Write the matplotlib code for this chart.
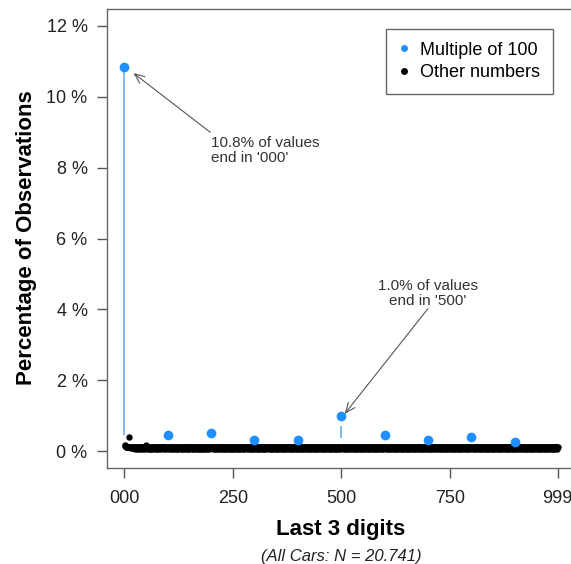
import matplotlib
matplotlib.use('Agg')
import matplotlib.pyplot as plt
from matplotlib.lines import Line2D

plt.rcParams['font.family'] = ['Liberation Sans', 'DejaVu Sans']

# multiples of 100 (percent of observations)
mult_x = [0, 100, 200, 300, 400, 500, 600, 700, 800, 900]
mult_y = [10.85, 0.44, 0.50, 0.32, 0.32, 1.00, 0.44, 0.30, 0.39, 0.25]

# light blue spikes seen under '000' and '500' (x, low, high)
spike_x = [0, 500]
spike_lo = [0.45, 0.38]
spike_hi = [10.70, 0.72]

# other numbers: one line per hundred, endings 01..99,
# each char (base 36) * 0.02 = percent of observations
other_codes = [
    "877665656 k656545465 6546535446 3645364543 5463546345 7865436453 5436453645 4635463546 5364535465 4536443654",
    "463546354 6453645364 5346354645 3645364536 4536453645 3654635463 5463546354 6354635463 4536453645 3654635466",
    "546354635 4635463546 5364536453 6453645364 5364536453 6453546354 6354635463 5463546354 6453645364 5364536453",
    "463546354 6354635463 5463546354 6453645364 5364536453 6453645364 5364536453 6453645364 5364536453 6453645364",
    "364536453 6453645364 5364536453 6453645364 5364536453 6453645364 5364536453 6453645364 5364536453 6453645364",
    "546354635 4635463546 5364536453 6453645364 5364536453 6453645364 5364536453 6453645364 5364536453 6453645364",
    "453645364 5364536453 6453645364 5364536453 6453645364 5364536453 6453645364 5364536453 6453645364 5364536453",
    "546354635 4635463546 5364536453 6453645364 5364536453 6453645364 5364536453 6453645364 5364536453 6453645364",
    "453645364 5364536453 6453645364 5364536453 6453645364 5364536453 6453645364 5364536453 6453645364 5364536453",
    "546354635 4635463546 5364536453 6453645364 5364536453 6453645364 5364536453 6453645364 5364536453 6453645366",
]

other_x = []
other_y = []
for h, line in enumerate(other_codes):
    codes = line.replace(' ', '')
    for k, c in enumerate(codes):
        other_x.append(h * 100 + k + 1)
        other_y.append(int(c, 36) * 0.02)

x_ticks = [0, 250, 500, 750, 999]
x_labels = ['000', '250', '500', '750', '999']
y_ticks = [0, 2, 4, 6, 8, 10, 12]
y_labels = ['%d %%' % v for v in y_ticks]

W, H = 571, 564
fig = plt.figure(figsize=(W / 100, H / 100), dpi=100)
ax = fig.add_axes([107 / W, 96 / H, 468 / W, 459 / H])

ax.vlines(spike_x, spike_lo, spike_hi, color='#5aa5f5', lw=1.1, zorder=1)
ax.plot(other_x, other_y, 'o', color='black', ms=4.6, mew=0, zorder=2)
ax.plot(mult_x, mult_y, 'o', color='#1e90ff', ms=7, mew=0, zorder=3)

ax.set_xlim(-40, 1039)
ax.set_ylim(-0.48, 12.48)
ax.set_xticks(x_ticks)
ax.set_xticklabels(x_labels)
ax.set_yticks(y_ticks)
ax.set_yticklabels(y_labels)
ax.tick_params(length=7, width=1, color='#555555', labelsize=13, labelcolor='#222222')
ax.tick_params(axis='x', pad=9)
ax.tick_params(axis='y', pad=7)
for s in ax.spines.values():
    s.set_color('#666666')
    s.set_linewidth(1)

# annotations
txtc = '#333333'
ax.text(200, 8.49, "10.8% of values\nend in '000'", ha='left', va='center',
        fontsize=11, color=txtc, linespacing=1.05)
ax.annotate('', xy=(21, 10.67), xytext=(198, 9.0),
            arrowprops=dict(arrowstyle='->,head_length=0.7,head_width=0.3',
                            color='#555555', lw=0.8, shrinkA=0, shrinkB=0))
ax.text(699, 4.44, "1.0% of values\nend in '500'", ha='center', va='center',
        fontsize=11, color=txtc, linespacing=1.05)
ax.annotate('', xy=(508, 1.05), xytext=(700, 4.02),
            arrowprops=dict(arrowstyle='->,head_length=0.7,head_width=0.3',
                            color='#555555', lw=0.8, shrinkA=0, shrinkB=0))

# legend
handles = [Line2D([], [], ls='none', marker='o', color='#1e90ff', ms=5, mew=0),
           Line2D([], [], ls='none', marker='o', color='black', ms=5, mew=0)]
leg = ax.legend(handles, ['Multiple of 100', 'Other numbers'], loc='upper right',
                bbox_to_anchor=(553 / W, 1 - 29 / H), bbox_transform=fig.transFigure,
                borderaxespad=0, fontsize=13, fancybox=False, framealpha=1,
                handlelength=0.6, handletextpad=0.6, labelspacing=0.3,
                borderpad=0.7)
leg.get_frame().set_edgecolor('#666666')
leg.get_frame().set_linewidth(1)

# axis titles
fig.text(341 / W, 1 - 530 / H, 'Last 3 digits', ha='center', va='center',
         fontsize=16, fontweight='bold')
fig.text(341 / W, 1 - 556 / H, '(All Cars: N = 20.741)', ha='center', va='center',
         fontsize=12, style='italic', color='#222222')
fig.text(27 / W, 1 - 238 / H, 'Percentage of Observations', ha='center', va='center',
         rotation=90, fontsize=16, fontweight='bold')

fig.savefig('out.png', dpi=100)
